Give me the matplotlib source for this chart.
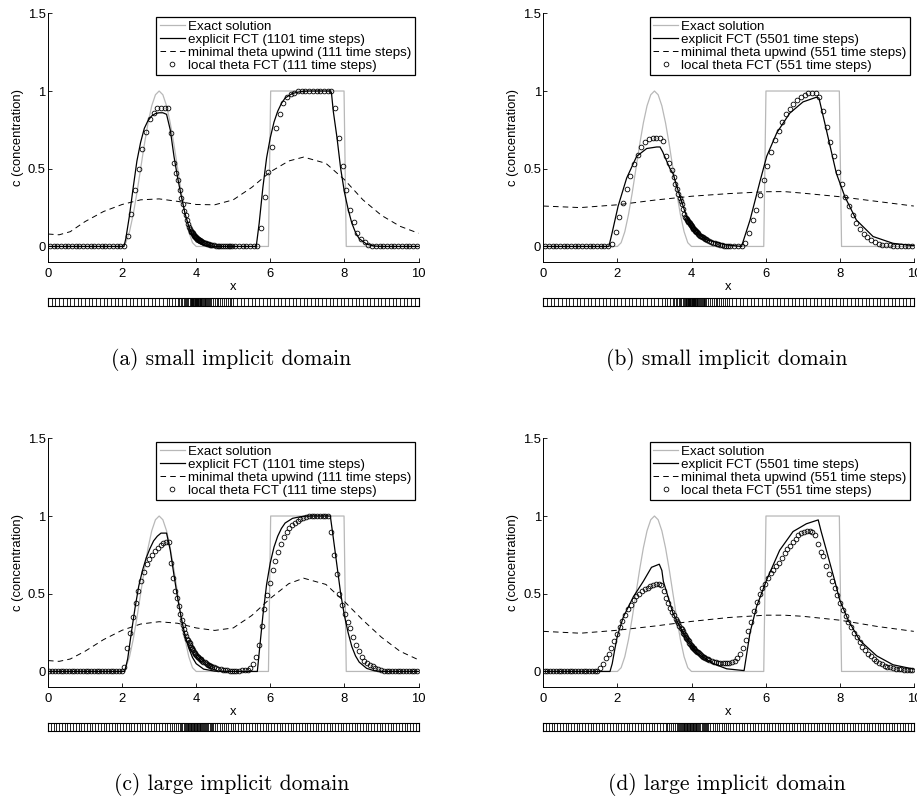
import numpy as np
import matplotlib.pyplot as plt

plt.rcParams['font.family'] = ['Liberation Sans', 'DejaVu Sans']
plt.rcParams['font.size'] = 9.4
plt.rcParams['lines.scale_dashes'] = False

# meshes: segment breaks and number of cells per segment
MESH_AB_BREAKS = [0, 3.2, 3.5, 3.7, 3.85, 4.15, 4.4, 5.0, 10]
MESH_AB_CELLS = [32, 4, 5, 5, 20, 10, 12, 50]
MESH_CD_BREAKS = [0, 3.3, 3.6, 3.75, 4.15, 4.45, 5.05, 10]
MESH_CD_CELLS = [44, 6, 5, 20, 10, 10, 66]

# exact solution: cosine hump + square wave
EXACT_X = [0, 2.0, 2.1, 2.2, 2.3, 2.4, 2.5, 2.6, 2.7, 2.8, 2.9, 3.0, 3.1, 3.2, 3.3, 3.4,
           3.5, 3.6, 3.7, 3.8, 3.9, 4.0, 5.95, 6.01, 7.99, 8.05, 10]
EXACT_Y = [0, 0, 0.024, 0.095, 0.206, 0.345, 0.5, 0.655, 0.794, 0.905, 0.976, 1.0, 0.976,
           0.905, 0.794, 0.655, 0.5, 0.345, 0.206, 0.095, 0.024, 0, 0, 1, 1, 0, 0]

# explicit FCT
FCT_A_X = [0, 2.05, 2.1, 2.2, 2.3, 2.4, 2.5, 2.6, 2.7, 2.8, 2.9, 3.0, 3.1, 3.2, 3.3, 3.4, 3.5,
           3.6, 3.7, 3.8, 3.9, 4.0, 4.2, 4.5, 5.62, 5.7, 5.8, 5.9, 6.0, 6.1, 6.2, 6.3, 6.4, 6.6,
           6.8, 7.0, 7.6, 7.65, 7.7, 7.8, 7.9, 8.0, 8.1, 8.2, 8.3, 8.4, 8.6, 8.8, 9.0, 10]
FCT_A_Y = [0, 0, 0.05, 0.2, 0.38, 0.55, 0.67, 0.76, 0.81, 0.84, 0.855, 0.86, 0.86, 0.85, 0.75,
           0.58, 0.44, 0.32, 0.21, 0.13, 0.07, 0.03, 0.008, 0, 0, 0.15, 0.38, 0.57, 0.7, 0.8,
           0.87, 0.92, 0.955, 0.985, 0.995, 1.0, 1.0, 0.99, 0.87, 0.7, 0.5, 0.35, 0.24, 0.15,
           0.09, 0.05, 0.015, 0.003, 0, 0]
FCT_B_X = [0, 1.77, 1.85, 2.02, 2.25, 2.52, 2.79, 3.06, 3.15, 3.22, 3.42, 3.5, 3.69, 3.87,
           4.05, 4.4, 4.95, 5.35, 5.58, 5.85, 6.03, 6.3, 6.65, 7.01, 7.37, 7.44, 7.64, 7.91,
           8.14, 8.45, 8.9, 9.44, 10]
FCT_B_Y = [0, 0, 0.08, 0.26, 0.44, 0.58, 0.63, 0.64, 0.64, 0.61, 0.5, 0.47, 0.32, 0.19,
           0.107, 0.043, 0.01, 0, 0.17, 0.42, 0.58, 0.73, 0.857, 0.93, 0.96, 0.955, 0.75, 0.47,
           0.32, 0.17, 0.064, 0.02, 0.005]
FCT_C_X = [0, 2.07, 2.15, 2.25, 2.35, 2.45, 2.55, 2.65, 2.75, 2.85, 2.95, 3.05, 3.2, 3.3, 3.4,
           3.5, 3.6, 3.7, 3.8, 3.9, 4.0, 4.2, 4.5, 5.0, 5.65, 5.7, 5.8, 5.9, 6.0, 6.1, 6.2, 6.3,
           6.4, 6.6, 6.8, 7.0, 7.62, 7.7, 7.8, 7.9, 8.0, 8.1, 8.2, 8.3, 8.4, 8.6, 8.8, 9.0, 10]
FCT_C_Y = [0, 0, 0.08, 0.25, 0.41, 0.55, 0.65, 0.73, 0.79, 0.84, 0.87, 0.89, 0.89, 0.78, 0.62,
           0.47, 0.34, 0.23, 0.15, 0.09, 0.05, 0.015, 0.002, 0, 0, 0.12, 0.36, 0.56, 0.7, 0.8,
           0.87, 0.92, 0.955, 0.985, 0.995, 1.0, 1.0, 0.86, 0.68, 0.5, 0.36, 0.25, 0.16, 0.1,
           0.06, 0.02, 0.005, 0, 0]
FCT_D_X = [0, 1.8, 1.86, 1.92, 2.0, 2.16, 2.43, 2.7, 2.92, 3.13, 3.2, 3.24, 3.5, 3.78, 4.14,
           4.59, 4.95, 5.4, 5.42, 5.58, 5.76, 6.03, 6.38, 6.74, 7.1, 7.42, 7.5, 7.64, 7.87, 8.0,
           8.23, 8.54, 9.0, 9.44, 10]
FCT_D_Y = [0, 0, 0.05, 0.13, 0.23, 0.35, 0.48, 0.58, 0.67, 0.69, 0.65, 0.58, 0.375, 0.246,
           0.118, 0.05, 0.017, 0.006, 0.006, 0.25, 0.42, 0.59, 0.78, 0.9, 0.95, 0.975, 0.9,
           0.78, 0.58, 0.46, 0.33, 0.2, 0.1, 0.043, 0.015]

# minimal theta upwind
UPW_A_X = [0, 0.3, 0.6, 1.0, 1.5, 2.0, 2.5, 3.0, 3.5, 4.0, 4.5, 5.0, 5.5, 6.0, 6.5, 6.9, 7.5,
           8.0, 8.5, 9.0, 9.5, 10]
UPW_A_Y = [0.08, 0.075, 0.095, 0.16, 0.225, 0.27, 0.3, 0.306, 0.29, 0.27, 0.268, 0.3, 0.38,
           0.48, 0.55, 0.575, 0.535, 0.43, 0.3, 0.2, 0.13, 0.085]
UPW_B_X = [0, 1, 2, 3, 4, 5, 6, 6.5, 7, 8, 9, 10]
UPW_B_Y = [0.26, 0.25, 0.268, 0.298, 0.323, 0.34, 0.352, 0.353, 0.343, 0.32, 0.29, 0.26]
UPW_C_X = [0, 0.3, 0.6, 1.0, 1.5, 2.0, 2.5, 3.0, 3.5, 4.0, 4.5, 5.0, 5.5, 6.0, 6.5, 6.9, 7.5,
           8.0, 8.5, 9.0, 9.5, 10]
UPW_C_Y = [0.07, 0.065, 0.08, 0.13, 0.205, 0.265, 0.305, 0.32, 0.31, 0.28, 0.264, 0.28, 0.36,
           0.47, 0.565, 0.6, 0.56, 0.45, 0.33, 0.22, 0.13, 0.075]
UPW_D_X = [0, 1, 2, 3, 4, 5, 6, 6.5, 7, 8, 9, 10]
UPW_D_Y = [0.258, 0.246, 0.265, 0.292, 0.322, 0.347, 0.362, 0.362, 0.355, 0.33, 0.29, 0.258]

# local theta FCT, one value per mesh cell (cell centres)
LOCAL_A = ([0.0] * 20 + [0.0, 0.07, 0.21, 0.36, 0.50, 0.63, 0.735, 0.82, 0.86, 0.89, 0.89, 0.89]
           + [0.89, 0.73, 0.54, 0.47]
           + [0.43, 0.36, 0.31, 0.27, 0.23]
           + [0.20, 0.17, 0.145, 0.125, 0.11]
           + [0.10, 0.095, 0.09, 0.085, 0.08, 0.075, 0.07, 0.066, 0.062, 0.058, 0.055, 0.052,
              0.049, 0.046, 0.043, 0.041, 0.039, 0.037, 0.035, 0.033]
           + [0.031, 0.028, 0.025, 0.022, 0.02, 0.018, 0.016, 0.014, 0.012, 0.011]
           + [0.009, 0.007, 0.005, 0.004, 0.003, 0.002, 0.001, 0, 0, 0, 0, 0]
           + [0.0] * 7 + [0.12, 0.32, 0.48, 0.64, 0.765, 0.855, 0.92, 0.96, 0.98, 0.99]
           + [1.0] * 10 + [0.89, 0.70, 0.52, 0.36, 0.235, 0.16, 0.086, 0.047, 0.026, 0.012, 0.005]
           + [0.0] * 12)
LOCAL_B = ([0.0] * 18 + [0.015, 0.096, 0.19, 0.28, 0.37, 0.456, 0.53, 0.59, 0.64, 0.67, 0.694,
                         0.70, 0.70, 0.70]
           + [0.68, 0.58, 0.54, 0.49]
           + [0.445, 0.40, 0.37, 0.34, 0.31]
           + [0.29, 0.27, 0.24, 0.21, 0.19]
           + [0.18, 0.175, 0.17, 0.165, 0.16, 0.155, 0.15, 0.145, 0.14, 0.135, 0.13, 0.125,
              0.12, 0.115, 0.11, 0.106, 0.102, 0.098, 0.094, 0.09]
           + [0.086, 0.08, 0.075, 0.07, 0.066, 0.062, 0.058, 0.054, 0.05, 0.046]
           + [0.04, 0.034, 0.029, 0.024, 0.02, 0.016, 0.013, 0.01, 0.008, 0.006, 0.005, 0.004]
           + [0.003, 0.002, 0.002, 0.003]
           + [0.024, 0.086, 0.17, 0.236, 0.33, 0.43, 0.52, 0.61, 0.686, 0.745, 0.80, 0.85,
              0.885, 0.915, 0.94, 0.96, 0.975, 0.985, 0.985, 0.985]
           + [0.96, 0.87, 0.77, 0.67, 0.58, 0.48, 0.40, 0.32, 0.26, 0.2, 0.15]
           + [0.11, 0.08, 0.058, 0.04, 0.026, 0.017, 0.012, 0.009, 0.007, 0.005, 0.004, 0.003,
              0.002, 0.001, 0.001])
LOCAL_C = ([0.0] * 27 + [0.03, 0.15, 0.25, 0.35, 0.44, 0.52, 0.58, 0.64, 0.69, 0.725, 0.75,
                         0.775, 0.795, 0.815, 0.825, 0.83, 0.83]
           + [0.70, 0.60, 0.52, 0.47, 0.42, 0.37]
           + [0.33, 0.30, 0.27, 0.25, 0.23]
           + [0.21, 0.2, 0.19, 0.18, 0.17, 0.16, 0.152, 0.144, 0.136, 0.128, 0.121, 0.114,
              0.107, 0.101, 0.095, 0.09, 0.085, 0.081, 0.077, 0.074]
           + [0.07, 0.064, 0.058, 0.053, 0.048, 0.044, 0.04, 0.036, 0.033, 0.03]
           + [0.027, 0.022, 0.018, 0.014, 0.011, 0.009, 0.007, 0.006, 0.006, 0.006]
           + [0.006, 0.006, 0.007, 0.008, 0.012, 0.02, 0.045, 0.09, 0.17, 0.29, 0.40, 0.49,
              0.57, 0.65, 0.71, 0.77, 0.82, 0.865, 0.895, 0.92, 0.94, 0.955, 0.97, 0.98, 0.99,
              0.995]
           + [1.0] * 8
           + [0.90, 0.75, 0.63, 0.50, 0.43, 0.37, 0.32, 0.28, 0.22, 0.17, 0.13, 0.095, 0.07,
              0.055, 0.042, 0.032, 0.022, 0.014, 0.008, 0.004]
           + [0.0] * 12)
LOCAL_D = ([0.0] * 19 + [0.005, 0.02, 0.05, 0.085, 0.115, 0.15, 0.195, 0.24, 0.285, 0.325,
                         0.365, 0.40, 0.43, 0.46, 0.485, 0.50, 0.515, 0.53, 0.54, 0.55, 0.555,
                         0.56, 0.56, 0.555, 0.52]
           + [0.47, 0.44, 0.41, 0.385, 0.36, 0.34]
           + [0.325, 0.31, 0.295, 0.28, 0.27]
           + [0.26, 0.25, 0.24, 0.232, 0.224, 0.216, 0.208, 0.2, 0.193, 0.186, 0.179, 0.172,
              0.166, 0.16, 0.154, 0.148, 0.143, 0.138, 0.133, 0.128]
           + [0.123, 0.117, 0.111, 0.106, 0.101, 0.096, 0.091, 0.087, 0.083, 0.079]
           + [0.075, 0.068, 0.063, 0.059, 0.056, 0.054, 0.053, 0.053, 0.054, 0.056]
           + [0.06, 0.07, 0.085, 0.11, 0.15, 0.2, 0.26, 0.32, 0.39, 0.45, 0.50, 0.535, 0.565,
              0.6, 0.635, 0.655, 0.68, 0.70, 0.73, 0.76, 0.785, 0.81, 0.835, 0.855, 0.875,
              0.89, 0.9, 0.905, 0.905, 0.9, 0.88, 0.82, 0.77, 0.74, 0.68, 0.63, 0.58, 0.535,
              0.49, 0.44, 0.395, 0.355, 0.32, 0.285, 0.25, 0.22, 0.19, 0.16, 0.135, 0.115,
              0.098, 0.083, 0.068, 0.057, 0.047, 0.038, 0.031, 0.026, 0.022, 0.019, 0.016,
              0.014, 0.012, 0.011, 0.01, 0.009])

LABELS_1 = ['Exact solution', 'explicit FCT (1101 time steps)',
            'minimal theta upwind (111 time steps)', 'local theta FCT (111 time steps)']
LABELS_2 = ['Exact solution', 'explicit FCT (5501 time steps)',
            'minimal theta upwind (551 time steps)', 'local theta FCT (551 time steps)']
CAPTIONS = ['(a) small implicit domain', '(b) small implicit domain',
            '(c) large implicit domain', '(d) large implicit domain']

W, H = 917, 808


def rect(left, top, right, bottom):
    return [left / W, 1 - bottom / H, (right - left) / W, (bottom - top) / H]


def mesh_edges(breaks, cells):
    edges = [np.array([breaks[0]])]
    for b0, b1, n in zip(breaks[:-1], breaks[1:], cells):
        edges.append(np.linspace(b0, b1, n + 1)[1:])
    return np.concatenate(edges)


panels = [
    (48, 13.3, FCT_A_X, FCT_A_Y, UPW_A_X, UPW_A_Y, LOCAL_A, MESH_AB_BREAKS, MESH_AB_CELLS, LABELS_1),
    (543.3, 13.3, FCT_B_X, FCT_B_Y, UPW_B_X, UPW_B_Y, LOCAL_B, MESH_AB_BREAKS, MESH_AB_CELLS, LABELS_2),
    (48, 438.3, FCT_C_X, FCT_C_Y, UPW_C_X, UPW_C_Y, LOCAL_C, MESH_CD_BREAKS, MESH_CD_CELLS, LABELS_1),
    (543.3, 438.3, FCT_D_X, FCT_D_Y, UPW_D_X, UPW_D_Y, LOCAL_D, MESH_CD_BREAKS, MESH_CD_CELLS, LABELS_2),
]

fig = plt.figure(figsize=(W / 100, H / 100), dpi=100)

for i, (left, top, fx, fy, ux, uy, local, breaks, cells, labels) in enumerate(panels):
    edges = mesh_edges(breaks, cells)
    centers = 0.5 * (edges[:-1] + edges[1:])
    assert len(centers) == len(local), (i, len(centers), len(local))

    ax = fig.add_axes(rect(left, top, left + 370.5, top + 248.7))
    h1, = ax.plot(EXACT_X, EXACT_Y, color='#b8b8b8', lw=0.9)
    h2, = ax.plot(fx, fy, color='k', lw=0.9)
    h3, = ax.plot(ux, uy, color='k', lw=0.7, dashes=(4, 3))
    h4, = ax.plot(centers, local, ls='none', marker='o', ms=3.4, mfc='none', mec='k', mew=0.6)

    ax.set_xlim(0, 10)
    ax.set_ylim(-0.1, 1.5)
    ax.set_xticks([0, 2, 4, 6, 8, 10])
    ax.set_yticks([0, 0.5, 1, 1.5])
    ax.set_yticklabels(['0', '0.5', '1', '1.5'])
    ax.spines['top'].set_visible(False)
    ax.spines['right'].set_visible(False)
    for s in ('left', 'bottom'):
        ax.spines[s].set_linewidth(0.7)
    ax.tick_params(direction='in', length=3, width=0.6)
    ax.tick_params(axis='x', pad=4)
    ax.tick_params(axis='y', pad=1.7)
    ax.set_xlabel('x', labelpad=1)
    ax.set_ylabel('c (concentration)', labelpad=3)

    leg = ax.legend([h1, h2, h3, h4], labels, loc='upper right',
                    bbox_to_anchor=(1 - 4 / 370.5, 1 - 4 / 248.7), borderaxespad=0,
                    fancybox=False, edgecolor='k', framealpha=1, numpoints=1,
                    handlelength=1.9, handletextpad=0.2, borderpad=0.25,
                    labelspacing=0.05, fontsize=9.6)
    leg.get_frame().set_linewidth(0.9)

    # mesh strip
    sax = fig.add_axes(rect(left, top + 284.7, left + 370.5, top + 292.7))
    sax.vlines(edges, 0, 1, color='k', lw=0.6, clip_on=False)
    sax.set_xlim(0, 10)
    sax.set_ylim(0, 1)
    sax.set_xticks([])
    sax.set_yticks([])
    for s in sax.spines.values():
        s.set_linewidth(0.8)

    cx = left + 183.5
    cy = top + 346.7
    fig.text(cx / W, 1 - cy / H, CAPTIONS[i], ha='center', va='center',
             fontfamily='cmr10', fontsize=15.5)

fig.savefig('out.png', dpi=100)
